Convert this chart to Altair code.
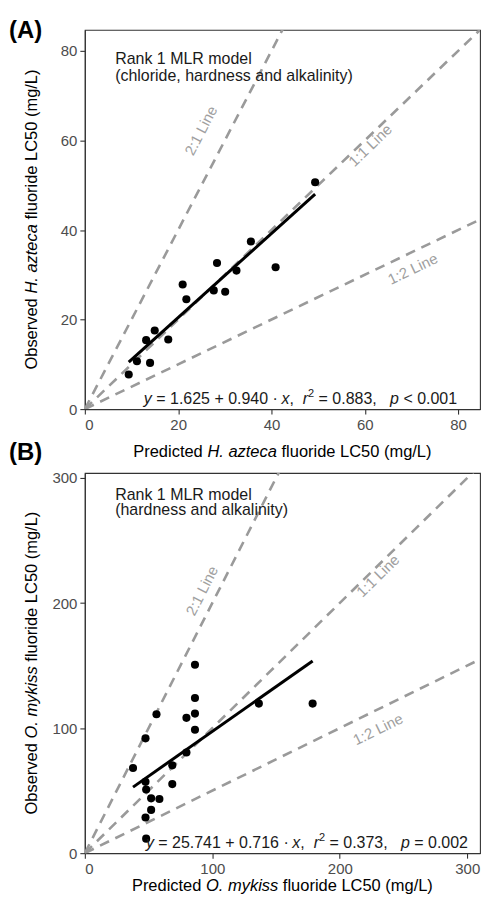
import math
import altair as alt
import pandas as pd

FONT = "Liberation Sans"

# ---------------- Panel A : H. azteca ----------------
a_pred = [9.41, 11.17, 13.98, 13.14, 14.98, 17.88, 20.97, 21.76, 27.63, 28.33, 30.08, 32.50, 35.59, 40.89, 49.36]
a_obs = [7.73, 10.69, 10.32, 15.40, 17.54, 15.55, 27.83, 24.52, 26.51, 32.63, 26.22, 30.93, 37.42, 31.68, 50.67]
a_fit = [1.625, 0.940]
a_ticks = [0, 20, 40, 60, 80]
a_xdomain = [0, 84.7]
a_ydomain = [0, 84.7]
a_model = ["Rank 1 MLR model", "(chloride, hardness and alkalinity)"]
a_model_x = 6.5
a_model_y = [77.0, 73.3]
a_lab_x = [24.9, 61.2, 70.3]
a_lab_y = [62.2, 58.9, 31.3]
a_eq_x = 12.65
a_eq = [("y", "i"), (" = 1.625 + 0.940 · ", "n"), ("x", "i"), (",  ", "n"), ("r", "i"), ("2", "sup"),
        (" = 0.883,   ", "n"), ("p", "i"), (" < 0.001", "n")]
a_species = "H. azteca"

# ---------------- Panel B : O. mykiss ----------------
b_pred = [37.8, 47.6, 56.2, 47.6, 48.1, 52.0, 58.5, 52.0, 47.6, 48.1, 68.6, 68.6, 79.7, 79.7,
          86.4, 86.4, 86.4, 86.4, 136.5, 178.7]
b_obs = [68.1, 91.8, 111.1, 57.0, 50.9, 43.8, 43.3, 34.6, 28.5, 11.6, 70.2, 55.2, 108.2, 80.5,
         150.7, 124.1, 111.6, 98.7, 119.6, 119.6]
b_fit = [25.741, 0.716]
b_ticks = [0, 100, 200, 300]
b_xdomain = [0, 310]
b_ydomain = [0, 304]
b_model = ["Rank 1 MLR model", "(hardness and alkalinity)"]
b_model_x = 23.8
b_model_y = [282.7, 270.0]
b_lab_x = [92.0, 230.0, 230.0]
b_lab_y = [209.8, 221.7, 99.0]
b_eq_x = 47.9
b_eq = [("y", "i"), (" = 25.741 + 0.716 · ", "n"), ("x", "i"), (",  ", "n"), ("r", "i"), ("2", "sup"),
        (" = 0.373,   ", "n"), ("p", "i"), (" = 0.002", "n")]
b_species = "O. mykiss"

ref_names = ["2:1 Line", "1:1 Line", "1:2 Line"]
ref_slopes = [2.0, 1.0, 0.5]

# --------------- text width helper (Arial / Liberation Sans metrics) ---------------
_W = {" ": 278, "(": 333, ")": 333, ",": 278, "-": 333, ".": 278, "/": 278, ":": 278,
      "<": 584, "=": 584, "+": 584, "·": 278}
for c in "0123456789":
    _W[c] = 556
_W.update(dict(zip("ABCDEFGHIJKLMNOPQRSTUVWXYZ",
                   [667, 667, 722, 722, 667, 611, 778, 722, 278, 500, 667, 556, 833, 722, 778, 667,
                    778, 722, 667, 611, 722, 667, 944, 667, 667, 611])))
_W.update(dict(zip("abcdefghijklmnopqrstuvwxyz",
                   [556, 556, 500, 556, 556, 278, 556, 556, 222, 222, 500, 222, 833, 556, 556, 556,
                    556, 333, 500, 278, 556, 500, 722, 500, 500, 500])))


def tw(s, size):
    return sum(_W.get(ch, 556) for ch in s) / 1000.0 * size


def seg_layout(segs, size, sup_size):
    out = []
    cum = 0.0
    for s, st in segs:
        fs = sup_size if st == "sup" else size
        lead = len(s) - len(s.lstrip())
        out.append((s.strip(), st, cum + tw(s[:lead], fs)))
        cum += tw(s, fs)
    return out, cum


PW = 396


def panel(pred, obs, fit, xdom, ydom, ticks, model, model_x, model_y, lab_x, lab_y,
          eq, eq_x, species, letter, PH, xtitle_off):
    xs = alt.Scale(domain=xdom, nice=False, zero=False)
    ys = alt.Scale(domain=ydom, nice=False, zero=False)
    xax = alt.Axis(values=ticks, title=None, grid=False, format="d")
    yax = alt.Axis(values=ticks, title=None, grid=False, format="d")

    def XY(xf, yf):
        return dict(x=alt.X(xf, type="quantitative", scale=xs, axis=xax),
                    y=alt.Y(yf, type="quantitative", scale=ys, axis=yax))

    rows = []
    for n, s in zip(ref_names, ref_slopes):
        rows.append({"line": n, "x": 0.0, "y": 0.0})
        rows.append({"line": n, "x": xdom[1], "y": s * xdom[1]})
    ref = alt.Chart(pd.DataFrame(rows)).mark_line(
        clip=True, color="#9a9a9a", strokeWidth=2.6, strokeDash=[10, 7]
    ).encode(detail="line:N", **XY("x", "y"))

    pxu = PW / (xdom[1] - xdom[0])
    pyu = PH / (ydom[1] - ydom[0])
    angles = [360 - math.degrees(math.atan(s * pyu / pxu)) for s in ref_slopes]
    lab = alt.Chart(pd.DataFrame({"x": lab_x, "y": lab_y, "t": ref_names, "a": angles})).mark_text(
        color="#a0a0a0", font=FONT, fontSize=15, align="center", baseline="middle"
    ).encode(text="t:N", angle=alt.Angle("a:Q", scale=None), **XY("x", "y"))

    fx = [min(pred), max(pred)]
    fy = [fit[0] + fit[1] * v for v in fx]
    reg = alt.Chart(pd.DataFrame({"x": fx, "y": fy})).mark_line(
        color="black", strokeWidth=3
    ).encode(**XY("x", "y"))

    pts = alt.Chart(pd.DataFrame({"x": pred, "y": obs})).mark_circle(
        size=66, color="black", opacity=1
    ).encode(**XY("x", "y"))

    mod = alt.Chart(pd.DataFrame({"x": [model_x] * len(model), "y": model_y, "t": model})).mark_text(
        font=FONT, fontSize=16, color="#1a1a1a", align="left", baseline="alphabetic"
    ).encode(text="t:N", **XY("x", "y"))

    layers = [ref, lab, reg, pts, mod]

    segs, _ = seg_layout(eq, 16, 11)
    for t, st, off in segs:
        layers.append(alt.Chart(pd.DataFrame({"x": [eq_x], "y": [0.0], "t": [t]})).mark_text(
            font=FONT, fontSize=11 if st == "sup" else 16,
            fontStyle="italic" if st == "i" else "normal",
            color="#1a1a1a", align="left", baseline="alphabetic",
            dx=off, dy=-12 if st == "sup" else -5
        ).encode(text="t:N", **XY("x", "y")))

    TS = 16.5
    ysegs, yw = seg_layout([("Observed ", "n"), (species, "i"), (" fluoride LC50 (mg/L)", "n")], TS, TS)
    for t, st, off in ysegs:
        layers.append(alt.Chart(pd.DataFrame({"t": [t]})).mark_text(
            font=FONT, fontSize=TS, fontStyle="italic" if st == "i" else "normal",
            color="black", align="left", baseline="alphabetic", angle=270,
            dx=off - yw / 2
        ).encode(text="t:N", x=alt.value(-48), y=alt.value(PH / 2)))
    xsegs, xw = seg_layout([("Predicted ", "n"), (species, "i"), (" fluoride LC50 (mg/L)", "n")], TS, TS)
    for t, st, off in xsegs:
        layers.append(alt.Chart(pd.DataFrame({"t": [t]})).mark_text(
            font=FONT, fontSize=TS, fontStyle="italic" if st == "i" else "normal",
            color="black", align="left", baseline="alphabetic",
            dx=off - xw / 2
        ).encode(text="t:N", x=alt.value(PW / 2), y=alt.value(PH + xtitle_off)))

    layers.append(alt.Chart(pd.DataFrame({"t": [letter[0]]})).mark_text(
        font=FONT, fontSize=24, fontWeight="bold", color="black", align="left", baseline="alphabetic"
    ).encode(text="t:N", x=alt.value(-76), y=alt.value(letter[1])))

    return alt.layer(*layers).properties(width=PW, height=PH)


A = panel(a_pred, a_obs, a_fit, a_xdomain, a_ydomain, a_ticks, a_model, a_model_x, a_model_y,
          a_lab_x, a_lab_y, a_eq, a_eq_x, a_species, ("(A)", 8), 380, 48)
B = panel(b_pred, b_obs, b_fit, b_xdomain, b_ydomain, b_ticks, b_model, b_model_x, b_model_y,
          b_lab_x, b_lab_y, b_eq, b_eq_x, b_species, ("(B)", -13), 381, 38)

chart = alt.vconcat(A, B, spacing=64, bounds="flush").properties(
    padding={"left": 0, "top": 9, "right": 0, "bottom": 0}
).configure_view(
    stroke="#333333", strokeWidth=1.1
).configure_axis(
    grid=False, domainColor="#333333", domainWidth=1.1, tickColor="#333333", tickWidth=1.1,
    tickSize=5, labelColor="#4d4d4d", labelFont=FONT, labelFontSize=15, labelPadding=3
)

chart.save("out.html", embed_options={"renderer": "svg", "actions": False})
